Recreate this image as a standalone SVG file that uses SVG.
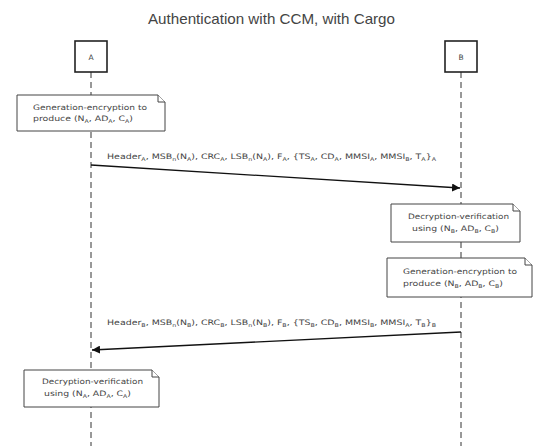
<svg xmlns="http://www.w3.org/2000/svg" width="533" height="446" viewBox="0 0 533 446">
<defs>
<style>
text{font-family:"DejaVu Sans","Liberation Sans",Arial,sans-serif;fill:#444}
.title{font-family:"Liberation Sans",Arial,sans-serif;font-size:14.5px}
.lbl{font-size:7.5px}
.msg{font-size:7.5px}
.sub{font-size:5px}
.life{stroke:#333;stroke-width:1;stroke-dasharray:6,4;fill:none}
.actor{fill:#fff;stroke:#222;stroke-width:1.6}
.note{fill:#fff;stroke:#444;stroke-width:1}
.line{stroke:#111;stroke-width:1.3;fill:none}
</style>
<marker id="arr" viewBox="0 0 10 10" refX="10" refY="5" markerWidth="8" markerHeight="8" orient="auto" markerUnits="userSpaceOnUse">
<path d="M0,0 L10,5 L0,10 z" fill="#111"/>
</marker>
</defs>
<rect width="533" height="446" fill="#fff"/>
<text class="title" x="148" y="24" textLength="247" lengthAdjust="spacingAndGlyphs">Authentication with CCM, with Cargo</text>

<g id="lifelines">
<line class="life" x1="91" y1="72" x2="91" y2="446"/>
<line class="life" x1="461" y1="72" x2="461" y2="446"/>
</g>

<g id="actor-A">
<rect class="actor" x="75" y="41" width="32" height="31"/>
<text class="lbl" x="91" y="60" text-anchor="middle">A</text>
</g>
<g id="actor-B">
<rect class="actor" x="445" y="41" width="32" height="31"/>
<text class="lbl" x="461" y="60" text-anchor="middle">B</text>
</g>

<g id="note-gen-A">
<path class="note" d="M17,95 H158 L165,102 V131 H17 Z"/>
<path class="note" d="M158,95 V102 H165"/>
<text class="lbl" x="33" y="110" textLength="114" lengthAdjust="spacingAndGlyphs">Generation-encryption to</text>
<text class="lbl" x="33" y="121" textLength="100" lengthAdjust="spacingAndGlyphs">produce (N<tspan class="sub" dy="2">A</tspan><tspan dy="-2">, AD</tspan><tspan class="sub" dy="2">A</tspan><tspan dy="-2">, C</tspan><tspan class="sub" dy="2">A</tspan><tspan dy="-2">)</tspan></text>
</g>

<g id="note-dec-B">
<path class="note" d="M391,204 H513 L520,211 V242 H391 Z"/>
<path class="note" d="M513,204 V211 H520"/>
<text class="lbl" x="408" y="219" textLength="101" lengthAdjust="spacingAndGlyphs">Decryption-verification</text>
<text class="lbl" x="412" y="231" textLength="87" lengthAdjust="spacingAndGlyphs">using (N<tspan class="sub" dy="2">B</tspan><tspan dy="-2">, AD</tspan><tspan class="sub" dy="2">B</tspan><tspan dy="-2">, C</tspan><tspan class="sub" dy="2">B</tspan><tspan dy="-2">)</tspan></text>
</g>

<g id="note-gen-B">
<path class="note" d="M387,258 H525 L532,265 V297 H387 Z"/>
<path class="note" d="M525,258 V265 H532"/>
<text class="lbl" x="403" y="274" textLength="114" lengthAdjust="spacingAndGlyphs">Generation-encryption to</text>
<text class="lbl" x="403" y="286" textLength="100" lengthAdjust="spacingAndGlyphs">produce (N<tspan class="sub" dy="2">B</tspan><tspan dy="-2">, AD</tspan><tspan class="sub" dy="2">B</tspan><tspan dy="-2">, C</tspan><tspan class="sub" dy="2">B</tspan><tspan dy="-2">)</tspan></text>
</g>

<g id="note-dec-A">
<path class="note" d="M24,370 H152 L159,377 V407 H24 Z"/>
<path class="note" d="M152,370 V377 H159"/>
<text class="lbl" x="42" y="384" textLength="101" lengthAdjust="spacingAndGlyphs">Decryption-verification</text>
<text class="lbl" x="44" y="396" textLength="87" lengthAdjust="spacingAndGlyphs">using (N<tspan class="sub" dy="2">A</tspan><tspan dy="-2">, AD</tspan><tspan class="sub" dy="2">A</tspan><tspan dy="-2">, C</tspan><tspan class="sub" dy="2">A</tspan><tspan dy="-2">)</tspan></text>
</g>

<g id="connectors">
<line class="line" x1="91" y1="165" x2="460" y2="188" marker-end="url(#arr)"/>
<text class="msg" x="107" y="159" textLength="329" lengthAdjust="spacingAndGlyphs">Header<tspan class="sub" dy="2">A</tspan><tspan dy="-2">, MSB</tspan><tspan class="sub" dy="2">n</tspan><tspan dy="-2">(N</tspan><tspan class="sub" dy="2">A</tspan><tspan dy="-2">), CRC</tspan><tspan class="sub" dy="2">A</tspan><tspan dy="-2">, LSB</tspan><tspan class="sub" dy="2">n</tspan><tspan dy="-2">(N</tspan><tspan class="sub" dy="2">A</tspan><tspan dy="-2">), F</tspan><tspan class="sub" dy="2">A</tspan><tspan dy="-2">, {TS</tspan><tspan class="sub" dy="2">A</tspan><tspan dy="-2">, CD</tspan><tspan class="sub" dy="2">A</tspan><tspan dy="-2">, MMSI</tspan><tspan class="sub" dy="2">A</tspan><tspan dy="-2">, MMSI</tspan><tspan class="sub" dy="2">B</tspan><tspan dy="-2">, T</tspan><tspan class="sub" dy="2">A</tspan><tspan dy="-2">}</tspan><tspan class="sub" dy="2">A</tspan></text>
<line class="line" x1="461" y1="332" x2="92" y2="350" marker-end="url(#arr)"/>
<text class="msg" x="107" y="325" textLength="329" lengthAdjust="spacingAndGlyphs">Header<tspan class="sub" dy="2">B</tspan><tspan dy="-2">, MSB</tspan><tspan class="sub" dy="2">n</tspan><tspan dy="-2">(N</tspan><tspan class="sub" dy="2">B</tspan><tspan dy="-2">), CRC</tspan><tspan class="sub" dy="2">B</tspan><tspan dy="-2">, LSB</tspan><tspan class="sub" dy="2">n</tspan><tspan dy="-2">(N</tspan><tspan class="sub" dy="2">B</tspan><tspan dy="-2">), F</tspan><tspan class="sub" dy="2">B</tspan><tspan dy="-2">, {TS</tspan><tspan class="sub" dy="2">B</tspan><tspan dy="-2">, CD</tspan><tspan class="sub" dy="2">B</tspan><tspan dy="-2">, MMSI</tspan><tspan class="sub" dy="2">B</tspan><tspan dy="-2">, MMSI</tspan><tspan class="sub" dy="2">A</tspan><tspan dy="-2">, T</tspan><tspan class="sub" dy="2">B</tspan><tspan dy="-2">}</tspan><tspan class="sub" dy="2">B</tspan></text>
</g>
</svg>
